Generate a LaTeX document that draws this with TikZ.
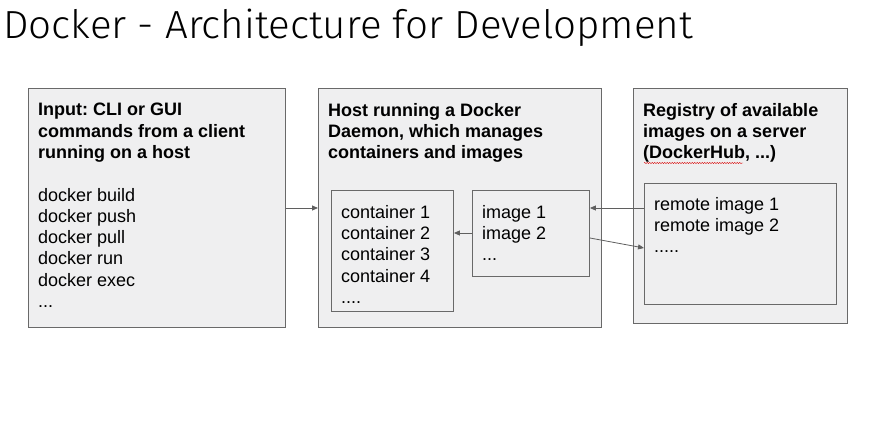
\documentclass[tikz,border=0pt]{standalone}
\usepackage{fontspec}
\setmainfont{Liberation Sans}
\IfFontExistsTF{Fira Sans Light}{\newfontfamily\titlefont{Fira Sans Light}}{\newfontfamily\titlefont{Fira Sans}}
\usetikzlibrary{arrows.meta,decorations.pathmorphing}
\frenchspacing
\definecolor{boxfill}{RGB}{239,239,240}
\definecolor{boxline}{RGB}{105,105,105}
\definecolor{arrowcol}{RGB}{95,95,95}
\tikzset{
  panel/.style={draw=boxline, fill=boxfill, line width=0.9pt, inner sep=0pt, anchor=north west},
  inner panel/.style={draw=boxline, fill=boxfill, line width=0.9pt, inner sep=0pt, anchor=north west},
  txt/.style={inner sep=0pt, anchor=north west, align=left, font=\fontsize{18}{21.3}\selectfont},
  conn/.style={draw=arrowcol, line width=0.8pt, -{Triangle[length=6pt,width=5pt]}}
}
\begin{document}
\begin{tikzpicture}[x=1pt,y=-1pt]
\useasboundingbox (0,0) rectangle (880,430);
% title
\node[inner sep=0pt, anchor=base west] (title) at (3,39)
  {\resizebox{690pt}{29.5pt}{\titlefont\fontsize{40}{48}\selectfont Docker - Architecture for Development}};
% panels
\node[panel, minimum width=257pt, minimum height=239pt] (client) at (28,88) {};
\node[panel, minimum width=283pt, minimum height=239pt] (host) at (318,88) {};
\node[panel, minimum width=214pt, minimum height=235pt] (registry) at (633,88) {};
\node[inner panel, minimum width=122pt, minimum height=121pt] (cont) at (331,190) {};
\node[inner panel, minimum width=117pt, minimum height=86pt] (imgs) at (472,190) {};
\node[inner panel, minimum width=192pt, minimum height=121pt] (remote) at (644,183) {};
% texts (top = first baseline - 12.9)
\node[txt] (clienttext) at (38,103.1) {\textbf{Input: CLI or GUI}\\\textbf{commands from a client}\\\textbf{running on a host}\\[21.3pt]docker build\\docker push\\docker pull\\docker run\\docker exec\\...};
\node[txt] (hosttext) at (328,103.1) {\textbf{Host running a Docker}\\\textbf{Daemon, which manages}\\\textbf{containers and images}};
\node[txt] (regtext) at (643,103.1) {\textbf{Registry of available}\\\textbf{images on a server}\\\textbf{(DockerHub, ...)}};
\node[txt] (conttext) at (341,205.1) {container 1\\container 2\\container 3\\container 4\\....};
\node[txt] (imgtext) at (482,205.1) {image 1\\image 2\\...};
\node[txt] (remotetext) at (654,197.1) {remote image 1\\remote image 2\\.....};
% spell-check underline
\draw[red!85!black, line width=0.4pt, decorate, decoration={snake, amplitude=0.6pt, segment length=2.5pt}]
  (644,163) -- (743,163);
% connectors
\draw[conn] (client.east |- 0,208) -- (host.west |- 0,208);
\draw[conn] (remote.west |- 0,208) -- (imgs.east |- 0,208);
\draw[conn] (imgs.west |- 0,233) -- (cont.east |- 0,233);
\draw[conn] (imgs.east |- 0,238) -- (remote.west |- 0,248);
\end{tikzpicture}
\end{document}
